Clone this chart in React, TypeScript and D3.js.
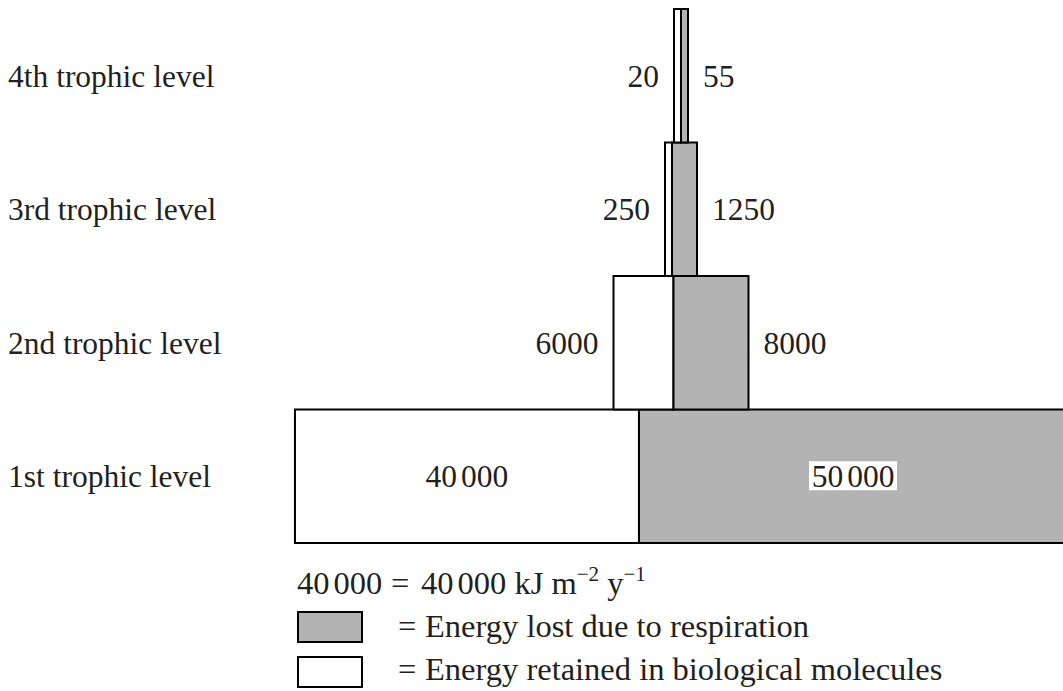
import React from 'react';
import * as d3 from 'd3';

// energy flow per trophic level, kJ m-2 y-1
const levels = ['1st trophic level', '2nd trophic level', '3rd trophic level', '4th trophic level'];
const retained = [40000, 6000, 250, 20];
const respired = [50000, 8000, 1250, 55];

const legendItems = [
  { label: 'Energy lost due to respiration', fill: '#b3b3b3' },
  { label: 'Energy retained in biological molecules', fill: '#ffffff' },
];

const W = 1063;
const H = 691;
const INK = '#231f20';
const GREY = '#b3b3b3';
const FONT = '"Liberation Serif", "DejaVu Serif", serif';

// the pyramid is schematic, widths are not strictly proportional
const width = d3
  .scaleLinear()
  .domain([0, 20, 250, 1250, 6000, 8000, 40000])
  .range([0, 7, 7, 25, 60, 75, 344]);

const y = d3
  .scaleBand<string>()
  .domain([...levels].reverse())
  .range([9, 543])
  .padding(0);

const centreX = 681;

// numbers >= 10 000 get a narrow gap before the last three digits
const Num: React.FC<{ v: number }> = ({ v }) => {
  const s = String(v);
  if (v < 10000) return <>{s}</>;
  return (
    <>
      {s.slice(0, s.length - 3)}
      <tspan dx={4}>{s.slice(-3)}</tspan>
    </>
  );
};

const App: React.FC = () => {
  const bw = y.bandwidth();
  return (
    <svg
      width={W}
      height={H}
      style={{ position: 'absolute', left: 0, top: 0, background: '#fff', fontFamily: FONT, fontSize: 31.5 }}
      fill={INK}
    >
      {levels.map((lvl, i) => {
        const wl = width(retained[i]);
        const wr = width(respired[i]);
        const x0 = centreX - (wl + wr) / 2;
        const mid = x0 + wl;
        const top = y(lvl)!;
        const base = top + bw / 2 + 11;
        const inside = i === 0;
        return (
          <g key={lvl}>
            <rect x={x0} y={top} width={wl} height={bw} fill="#fff" stroke="#000" strokeWidth={2} />
            <rect x={mid} y={top} width={wr} height={bw} fill={GREY} stroke="#000" strokeWidth={2} />
            <text x={8} y={base}>{lvl}</text>
            {inside ? (
              <>
                <text x={x0 + wl / 2} y={base} textAnchor="middle"><Num v={retained[i]} /></text>
                <rect x={mid + wr / 2 - 44} y={base - 26} width={88} height={29} fill="#fff" />
                <text x={mid + wr / 2} y={base} textAnchor="middle"><Num v={respired[i]} /></text>
              </>
            ) : (
              <>
                <text x={x0 - 15} y={base} textAnchor="end"><Num v={retained[i]} /></text>
                <text x={mid + wr + 15} y={base} textAnchor="start"><Num v={respired[i]} /></text>
              </>
            )}
          </g>
        );
      })}

      {/* key */}
      <g style={{ fontSize: 32.5 }}>
        <text x={297} y={594}><Num v={40000} /></text>
        <text x={391} y={594}>=</text>
        <text x={421} y={594}>
          <Num v={40000} />
          <tspan> kJ m</tspan>
          <tspan fontSize={21} dy={-13}>{'\u22122'}</tspan>
          <tspan dy={13}> y</tspan>
          <tspan fontSize={21} dy={-13}>{'\u22121'}</tspan>
        </text>
        {legendItems.map((d, i) => {
          const ry = 612 + i * 45;
          return (
            <g key={d.label}>
              <rect x={298} y={ry} width={64} height={30} fill={d.fill} stroke="#000" strokeWidth={2} />
              <text x={398} y={ry + 25 - i * 2}>=</text>
              <text x={425} y={ry + 25 - i * 2}>{d.label}</text>
            </g>
          );
        })}
      </g>
    </svg>
  );
};

export default App;
